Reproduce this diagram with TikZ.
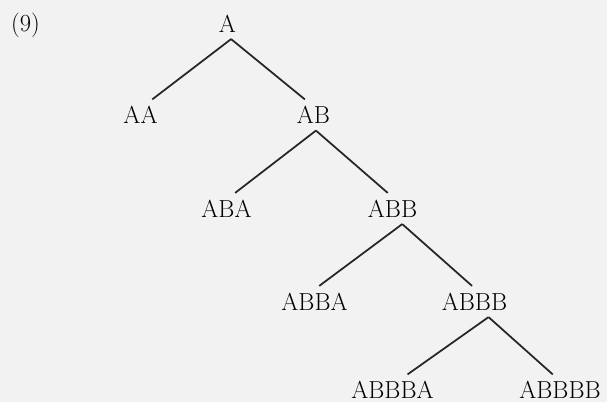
\documentclass[tikz,border=0pt]{standalone}
\usepackage{tikz}

\begin{document}
\begin{tikzpicture}[
    x=0.03cm,y=-0.03cm,
    word/.style={inner sep=2mm, font=\fontsize{21}{25}\selectfont, text=black},
    edge/.style={draw=black!85, line width=1.5pt},
    lab/.style={inner sep=0pt, anchor=base west, font=\fontsize{21}{25}\selectfont, text=black}
  ]
    \fill[black!5] (0,0) rectangle (607,402);
    \useasboundingbox (0,0) rectangle (607,402);
    \node[lab] (num) at (11,32) {(9)};

    \node[word] (a) at (227.5,23.5) {A};
    \node[word] (aa) at (140.5,115) {AA};
    \node[word] (ab) at (313.5,115) {AB};
    \draw[edge] (a.-77) -- (aa.53);
    \draw[edge] (a.-77) -- (ab.119);

    \node[word] (aba) at (226.5,208.5) {ABA};
    \node[word] (abb) at (392.5,208.5) {ABB};
    \draw[edge] (ab.-81) -- (aba.61);
    \draw[edge] (ab.-81) -- (abb.107);

    \node[word] (abba) at (314.5,301.5) {ABBA};
    \node[word] (abbb) at (474.5,301.5) {ABBB};
    \draw[edge] (abb.-58) -- (abba.73);
    \draw[edge] (abb.-58) -- (abbb.99);

    \node[word] (abbba) at (392.5,390) {ABBBA};
    \node[word] (abbbb) at (560,390) {ABBBB};
    \draw[edge] (abbb.-48) -- (abbba.46);
    \draw[edge] (abbb.-48) -- (abbbb.115);
  \end{tikzpicture}
\end{document}
